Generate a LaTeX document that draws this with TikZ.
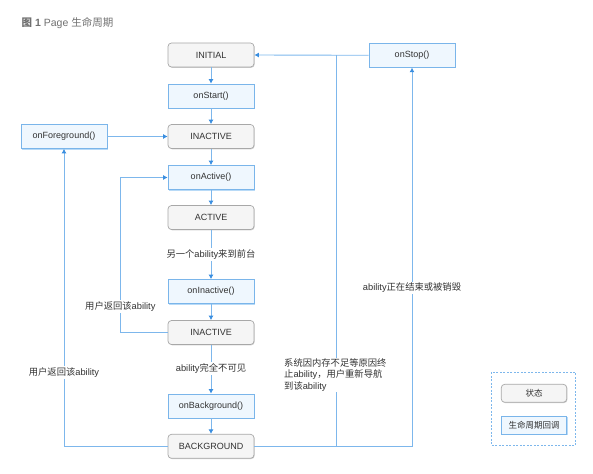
\documentclass[tikz,border=0pt]{standalone}
\usepackage{fontspec}
\setmainfont{Liberation Sans}
\newfontfamily\cjk{Noto Sans CJK SC}
\usetikzlibrary{arrows.meta,shadows,calc}
\definecolor{lineblue}{HTML}{7DB7EC}
\definecolor{tipblue}{HTML}{3A8EE0}
\definecolor{cbfill}{HTML}{EFF7FE}
\definecolor{cbdraw}{HTML}{7AB5EA}
\definecolor{cbshadow}{HTML}{B8DAF7}
\definecolor{stfill}{HTML}{F5F5F5}
\definecolor{stdraw}{HTML}{A8A8A8}
\definecolor{stshadow}{HTML}{CFCFCF}
\definecolor{txt}{HTML}{333333}
\definecolor{titlegray}{HTML}{707070}
\begin{document}
\begin{tikzpicture}[x=1pt,y=-1pt,
  statebox/.style={draw=stdraw,fill=stfill,rounded corners=3.5pt,line width=0.7pt,
    minimum width=86pt,minimum height=24pt,inner sep=0pt,text=txt,font=\fontsize{9}{10}\selectfont,
    drop shadow={shadow xshift=0.7pt,shadow yshift=-0.8pt,fill=stshadow,opacity=1}},
  cbbox/.style={draw=cbdraw,fill=cbfill,line width=0.7pt,
    minimum width=86pt,minimum height=24pt,inner sep=0pt,text=txt,font=\fontsize{9}{10}\selectfont,
    drop shadow={shadow xshift=1.2pt,shadow yshift=-1.2pt,fill=cbshadow,opacity=1}},
  conn/.style={draw=lineblue,line width=0.9pt,-{Latex[length=4.5pt,width=5pt,color=tipblue]}},
  plain/.style={draw=lineblue,line width=0.9pt},
  lbl/.style={fill=white,inner sep=1.5pt,text=txt,font=\fontsize{9.3}{11.3}\selectfont}
]
\useasboundingbox (0,0) rectangle (593,473);
\node[anchor=west,text=titlegray,font=\fontsize{10.5}{12}\selectfont,inner sep=0pt] (title) at (21.5,23.3)
  {{\cjk\bfseries 图} \textbf{1} Page {\cjk 生命周期}};

\node[statebox] (init) at (211,55) {INITIAL};
\node[cbbox] (onstart) at (211,96) {onStart()};
\node[statebox] (inact1) at (211,136.5) {INACTIVE};
\node[cbbox] (onactive) at (211,177.5) {onActive()};
\node[statebox] (active) at (211,217.5) {ACTIVE};
\node[cbbox] (oninactive) at (211,291.5) {onInactive()};
\node[statebox] (inact2) at (211,332.5) {INACTIVE};
\node[cbbox] (onbg) at (211,406) {onBackground()};
\node[statebox] (bg) at (211,446.3) {BACKGROUND};
\node[cbbox] (onfg) at (64,136.5) {onForeground()};
\node[cbbox] (onstop) at (412,55.3) {onStop()};

\coordinate (j) at (336,55.3);

\draw[conn] (init) -- (onstart);
\draw[conn] (onstart) -- (inact1);
\draw[conn] (inact1) -- (onactive);
\draw[conn] (onactive) -- (active);
\draw[conn] (active) -- node[lbl] (l1) {{\cjk 另一个}ability{\cjk 来到前台}} (oninactive);
\draw[conn] (oninactive) -- (inact2);
\draw[conn] (inact2) -- node[lbl,pos=0.49] (l2) {ability{\cjk 完全不可见}} (onbg);
\draw[conn] (onbg) -- (bg);

\draw[conn] (inact2.west) -- ++(-47.3,0) coordinate (c1) |- node[lbl,pos=0.085] (l3) {{\cjk 用户返回该}ability} (onactive.west);
\draw[conn] (bg.west) -| node[lbl,pos=0.624] (l4) {{\cjk 用户返回该}ability} (onfg.south);
\draw[conn] (onfg.east) -- (inact1.west);

\draw[conn] (bg.east) -| node[lbl,pos=0.709] (l5) {ability{\cjk 正在结束或被销毁}} (onstop.south);
\draw[plain] (bg.east) -| (j);
\draw[conn] (onstop.west) -- (init.east);

\node[lbl,anchor=north west,align=left,inner sep=1pt,fill=white] (l6) at (283,357.5)
  {{\cjk 系统因内存不足等原因终}\\{\cjk 止}ability{\cjk ，用户重新导航}\\{\cjk 到该}ability};

\draw[draw=lineblue,dashed,line width=0.7pt,dash pattern=on 2pt off 1.5pt] (491.3,372.3) rectangle (575.7,445.3);
\node[statebox,minimum width=65.5pt,minimum height=18pt,font=\fontsize{8.5}{10}\selectfont] (leg1) at (534,393.3) {\cjk 状态};
\node[cbbox,minimum width=65.5pt,minimum height=18pt,font=\fontsize{8.5}{10}\selectfont] (leg2) at (534,425.2) {\cjk 生命周期回调};
\end{tikzpicture}
\end{document}
